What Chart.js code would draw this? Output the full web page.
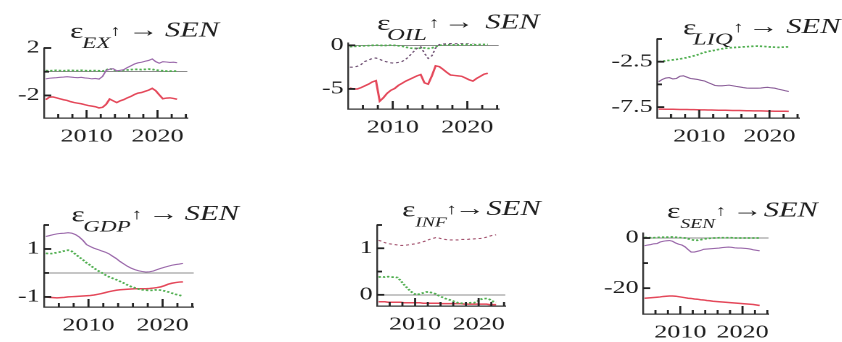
<!DOCTYPE html>
<html>
<head>
<meta charset="utf-8">
<script src="https://cdn.jsdelivr.net/npm/chart.js@4.4.1/dist/chart.umd.min.js"></script>
<style>
  html, body { margin: 0; padding: 0; background: #fff; }
  #page { position: relative; width: 842px; height: 342px; overflow: hidden; background: #fff; }
  .panel { position: absolute; transform-origin: 0 0; }
  .panel canvas { display: block; }
</style>
</head>
<body>
<div id="page"></div>
<script>
// Half-year sample points
const years = [2004.25, 2004.75, 2005.25, 2005.75, 2006.25, 2006.75, 2007.25, 2007.75, 2008.25, 2008.75,
  2009.25, 2009.75, 2010.25, 2010.75, 2011.25, 2011.75, 2012.25, 2012.75, 2013.25, 2013.75,
  2014.25, 2014.75, 2015.25, 2015.75, 2016.25, 2016.75, 2017.25, 2017.75, 2018.25, 2018.75,
  2019.25, 2019.75, 2020.25, 2020.75, 2021.25, 2021.75, 2022.25, 2022.75];

const yearTicks = [2010, 2020];
const yearLabels = ['2010', '2020'];
const minorYears = [2006, 2008, 2010, 2012, 2014, 2016, 2018, 2020, 2022, 2024];

// EX shock
const exGreen = [0.1, 0.08, 0.1, 0.12, 0.1, 0.08, 0.1, 0.12, 0.1, 0.1, 0.12, 0.1, 0.08, 0.1, 0.1, 0.08, 0.05, 0.15, 0.25, 0.18,
  0.05, 0.08, 0.12, 0.15, 0.18, 0.2, 0.2, 0.18, 0.2, 0.22, 0.2, 0.15, 0.1, 0.08, 0.05, 0.05, 0.05, 0.05];
const exPurple = [-0.6, -0.55, -0.52, -0.5, -0.47, -0.45, -0.42, -0.45, -0.48, -0.5, -0.47, -0.52, -0.55, -0.6, -0.57, -0.62, -0.4, 0.1, 0.22, 0.25,
  0.08, 0.12, 0.18, 0.35, 0.5, 0.65, 0.75, 0.8, 0.88, 0.95, 1.08, 0.85, 0.72, 0.85, 0.82, 0.78, 0.8, 0.76];
const exRed = [-2.35, -2.15, -2.12, -2.2, -2.28, -2.36, -2.42, -2.52, -2.6, -2.65, -2.7, -2.78, -2.85, -2.9, -2.95, -3.05, -3.0, -2.75, -2.3, -2.45,
  -2.6, -2.45, -2.35, -2.2, -2.08, -1.92, -1.8, -1.75, -1.65, -1.55, -1.4, -1.6, -1.95, -2.28, -2.22, -2.2, -2.25, -2.32];
const exTicks = [-2, 0, 2];
const exTickLabels = ['-2', '', '2'];

// OIL shock
const oilGreen = [-0.15, -0.12, -0.1, -0.08, -0.05, -0.03, 0, 0.02, 0, -0.02, 0, 0.02, 0, -0.05, -0.1, -0.2, -0.3, -0.35, -0.35, -0.32,
  -0.3, -0.35, -0.3, -0.15, 0, 0.05, 0.05, 0.08, 0.05, 0.05, 0.08, 0.1, 0.08, 0.05, 0.08, 0.1, 0.1, 0.1];
const oilPurple = [-2.5, -2.5, -2.4, -2.2, -1.85, -1.7, -1.5, -1.45, -1.6, -1.8, -1.9, -2.0, -2.05, -1.95, -1.85, -1.6, -1.2, -0.75, -0.35, -0.15,
  -0.9, -1.5, -1.2, -0.3, 0.1, 0.15, 0.18, 0.2, 0.18, 0.2, 0.25, 0.25, 0.28, 0.3, 0.32, 0.38, 0.45, 0.5];
const oilRed = [-4.9, -5.0, -5.0, -4.85, -4.65, -4.45, -4.2, -4.05, -6.4, -6.0, -5.5, -5.15, -4.95, -4.6, -4.35, -4.1, -3.9, -3.7, -3.5, -3.35,
  -4.3, -4.45, -3.5, -2.35, -2.45, -2.75, -3.1, -3.4, -3.45, -3.5, -3.55, -3.75, -3.95, -4.1, -3.8, -3.55, -3.3, -3.2];
const oilTicks = [-5, 0];
const oilTickLabels = ['-5', '0'];

// LIQ shock
const liqGreen = [-2.5, -2.45, -2.4, -2.35, -2.3, -2.25, -2.2, -2.12, -2.05, -1.95, -1.85, -1.75, -1.6, -1.48, -1.38, -1.3, -1.24, -1.15, -1.08, -1.02,
  -0.98, -0.94, -0.92, -0.9, -0.87, -0.85, -0.82, -0.8, -0.78, -0.8, -0.82, -0.86, -0.88, -0.9, -0.92, -0.9, -0.88, -0.86];
const liqPurple = [-4.7, -4.45, -4.3, -4.25, -4.4, -4.35, -4.1, -4.05, -4.2, -4.35, -4.4, -4.45, -4.55, -4.62, -4.8, -4.95, -5.12, -5.16, -5.16, -5.12,
  -5.08, -5.15, -5.22, -5.28, -5.35, -5.4, -5.42, -5.42, -5.42, -5.4, -5.35, -5.32, -5.38, -5.42, -5.52, -5.6, -5.7, -5.78];
const liqRed = [-7.72, -7.72, -7.73, -7.74, -7.74, -7.75, -7.76, -7.76, -7.77, -7.78, -7.78, -7.79, -7.8, -7.81, -7.82, -7.82, -7.83, -7.84, -7.85, -7.85,
  -7.86, -7.87, -7.88, -7.88, -7.89, -7.9, -7.9, -7.91, -7.92, -7.92, -7.93, -7.94, -7.94, -7.95, -7.95, -7.96, -7.96, -7.97];
const liqTicks = [-7.5, -5, -2.5, 0];
const liqTickLabels = ['-7.5', '', '-2.5', ''];

// GDP shock
const gdpGreen = [0.82, 0.8, 0.82, 0.85, 0.88, 0.92, 0.95, 0.9, 0.78, 0.66, 0.55, 0.42, 0.32, 0.2, 0.1, 0.02, -0.08, -0.16, -0.22, -0.28,
  -0.35, -0.42, -0.5, -0.57, -0.62, -0.67, -0.7, -0.72, -0.73, -0.72, -0.7, -0.72, -0.75, -0.79, -0.84, -0.89, -0.93, -0.96];
const gdpPurple = [1.52, 1.56, 1.6, 1.63, 1.65, 1.66, 1.68, 1.66, 1.6, 1.5, 1.36, 1.18, 1.1, 1.03, 0.98, 0.92, 0.87, 0.8, 0.7, 0.6,
  0.48, 0.38, 0.28, 0.2, 0.14, 0.09, 0.06, 0.04, 0.05, 0.08, 0.14, 0.19, 0.24, 0.28, 0.32, 0.35, 0.37, 0.4];
const gdpRed = [-1.0, -1.02, -1.03, -1.04, -1.03, -1.02, -1.0, -0.99, -0.98, -0.97, -0.96, -0.95, -0.94, -0.92, -0.89, -0.86, -0.82, -0.78, -0.75, -0.72,
  -0.7, -0.69, -0.68, -0.67, -0.66, -0.66, -0.66, -0.66, -0.65, -0.63, -0.61, -0.58, -0.53, -0.47, -0.43, -0.4, -0.38, -0.37];
const gdpTicks = [-1, 0, 1, 2];
const gdpTickLabels = ['-1', '', '1', ''];

// INF shock
const infGreen = [0.38, 0.39, 0.38, 0.39, 0.38, 0.38, 0.37, 0.3, 0.22, 0.15, 0.08, 0.03, 0.0, 0.02, 0.04, 0.06, 0.06, 0.04, 0.02, -0.02,
  -0.05, -0.08, -0.1, -0.12, -0.15, -0.17, -0.18, -0.19, -0.18, -0.17, -0.17, -0.15, -0.1, -0.08, -0.08, -0.1, -0.14, -0.16];
const infPurple = [1.17, 1.15, 1.12, 1.1, 1.09, 1.08, 1.07, 1.06, 1.06, 1.07, 1.08, 1.09, 1.1, 1.12, 1.14, 1.16, 1.19, 1.21, 1.23, 1.22,
  1.2, 1.19, 1.18, 1.18, 1.18, 1.18, 1.19, 1.19, 1.19, 1.2, 1.2, 1.21, 1.21, 1.22, 1.24, 1.26, 1.28, 1.29];
const infRed = [-0.15, -0.15, -0.15, -0.16, -0.16, -0.16, -0.16, -0.16, -0.17, -0.17, -0.17, -0.17, -0.17, -0.17, -0.18, -0.18, -0.18, -0.18, -0.18, -0.18,
  -0.19, -0.19, -0.19, -0.19, -0.19, -0.19, -0.19, -0.2, -0.2, -0.2, -0.2, -0.2, -0.2, -0.2, -0.2, -0.21, -0.21, -0.21];
const infTicks = [0, 0.5, 1, 1.5];
const infTickLabels = ['0', '', '1', ''];

// SEN shock
const senGreen = [0.2, 0.2, 0.1, 0.1, 0.2, 0.3, 0.3, 0.3, 0.4, 0.4, 0.3, 0.2, 0.1, 0, -0.3, -0.6, -0.9, -0.9, -0.7, -0.4,
  -0.2, -0.1, 0, 0, 0.1, 0.1, 0.1, 0.1, 0.1, 0, 0, 0, 0, 0, 0, 0, 0, 0];
const senPurple = [-3.1, -2.8, -2.6, -2.3, -2.2, -1.6, -1.3, -1.1, -1.0, -1.3, -2.0, -2.5, -2.8, -3.5, -4.6, -5.6, -5.6, -5.3, -5.0, -4.5,
  -4.4, -4.3, -4.2, -4.1, -4.0, -3.8, -3.7, -3.6, -3.7, -3.9, -4.0, -4.0, -4.1, -4.2, -4.4, -4.7, -4.9, -5.1];
const senRed = [-24.0, -23.9, -23.8, -23.7, -23.6, -23.5, -23.3, -23.2, -23.1, -23.1, -23.2, -23.4, -23.6, -23.8, -24.0, -24.1, -24.3, -24.4, -24.6, -24.7,
  -24.9, -25.0, -25.2, -25.3, -25.4, -25.5, -25.6, -25.7, -25.8, -25.9, -26.0, -26.1, -26.2, -26.3, -26.4, -26.5, -26.7, -26.9];
const senTicks = [-20, -10, 0];
const senTickLabels = ['-20', '', '0'];

// ---- layout & styling ----
const STRETCH = 1.45;          // horizontal stretch of the whole figure
const LEFT = 50, TOP = 45, BOTTOM = 32; // room for axis labels and heading
const SERIF = '"Liberation Serif", "Times New Roman", serif';

// heading: [x of ε from plot left, baseline from plot top], part offsets from ε (sub, ↑, →, SEN), subscript size
const panels = [
  { sub: 'EX',  green: exGreen,  purple: exPurple,  red: exRed,  ticks: exTicks,  labels: exTickLabels,  min: -3.9,  max: 2,    zero: true,
    box: [44, 187.3, 48.3, 118],      right: 50, head: [26, -11.6],  parts: [12, 40, 58, 95],     subSize: 16,
    purpleColor: '#9a68aa', purpleDash: [] },
  { sub: 'OIL', green: oilGreen, purple: oilPurple, red: oilRed, ticks: oilTicks, labels: oilTickLabels, min: -7.3,  max: 0.27, zero: true,
    box: [347.7, 498.3, 42.7, 108.3], right: 50, head: [29, -14.4],  parts: [10, 51.6, 66.6, 108.3], subSize: 17,
    purpleColor: '#6e4f72', purpleDash: [2, 2] },
  { sub: 'LIQ', green: liqGreen, purple: liqPurple, red: liqRed, ticks: liqTicks, labels: liqTickLabels, min: -8.7,  max: 0,    zero: false,
    box: [657.3, 799.3, 38.9, 118.3], right: 50, head: [26, -6],     parts: [10, 50, 65, 103.3],  subSize: 17,
    purpleColor: '#8a5d98', purpleDash: [] },
  { sub: 'GDP', green: gdpGreen, purple: gdpPurple, red: gdpRed, ticks: gdpTicks, labels: gdpTickLabels, min: -1.42, max: 2,    zero: true,
    box: [44.3, 194, 225, 306.7],     right: 49, head: [27.4, -5],   parts: [11.7, 60, 76.7, 113.3], subSize: 16,
    purpleColor: '#9a68aa', purpleDash: [] },
  { sub: 'INF', green: infGreen, purple: infPurple, red: infRed, ticks: infTicks, labels: infTickLabels, min: -0.24, max: 1.5,  zero: true,
    box: [376.7, 505, 225, 306],      right: 50, head: [25, -10],    parts: [13.3, 44, 52.5, 84.5], subSize: 13.5,
    purpleColor: '#a3526e', purpleDash: [2, 2] },
  { sub: 'SEN', green: senGreen, purple: senPurple, red: senRed, ticks: senTicks, labels: senTickLabels, min: -30.3, max: 2,    zero: true,
    box: [642.7, 768.3, 233.3, 314],  right: 50, head: [24, -16.6],  parts: [13.3, 48.3, 65, 96.7], subSize: 13.5,
    purpleColor: '#9a68aa', purpleDash: [] }
];

// Axis tick marks pointing into the plot
const inwardTicks = {
  id: 'inwardTicks',
  afterDraw(chart) {
    const { ctx, chartArea: a, scales: { x, y } } = chart;
    const cfg = chart.config._config.inward;
    ctx.save();
    ctx.fillStyle = '#222';
    cfg.ticks.forEach((v, i) => {
      const py = y.getPixelForValue(v);
      const len = cfg.labels[i] ? 5 : 3.5;
      ctx.fillRect(a.left, py - 0.9, len, 1.8);
    });
    minorYears.forEach(yr => {
      const px = x.getPixelForValue(yr);
      const len = yearTicks.includes(yr) ? 8 : 4;
      ctx.fillRect(px - 0.7, a.bottom - len, 1.4, len);
    });
    ctx.restore();
  }
};

// The "ε_X↑ → SEN" heading
const heading = {
  id: 'heading',
  afterDraw(chart) {
    const { ctx, chartArea: a } = chart;
    const h = chart.config._config.inward;
    const x0 = a.left + h.head[0] / STRETCH;
    const ty = a.top + h.head[1];
    const off = [0].concat(h.parts);
    const pieces = [
      { t: 'ε',   f: '22px ' + SERIF,                       dy: 1.5 },
      { t: h.sub, f: 'italic ' + h.subSize + 'px ' + SERIF, dy: 11.5 },
      { t: '↑',   f: '15px ' + SERIF,                       dy: -1 },
      { t: '→',   f: '21px ' + SERIF,                       dy: 0 },
      { t: 'SEN', f: 'italic 21px ' + SERIF,                dy: 0 }
    ];
    ctx.save();
    ctx.fillStyle = '#1e1e1e';
    ctx.textBaseline = 'alphabetic';
    ctx.textAlign = 'left';
    pieces.forEach((p, i) => {
      ctx.font = p.f;
      ctx.fillText(p.t, x0 + off[i] / STRETCH, ty + p.dy);
    });
    ctx.restore();
  }
};

const page = document.getElementById('page');

panels.forEach(p => {
  const [L, R, T, B] = p.box;
  const plotW = (R - L) / STRETCH;
  const leftW = LEFT / STRETCH;
  const width = Math.round((LEFT + (R - L) + p.right) / STRETCH);
  const height = Math.round(TOP + (B - T) + BOTTOM);

  const div = document.createElement('div');
  div.className = 'panel';
  div.style.left = (L - LEFT) + 'px';
  div.style.top = (T - TOP) + 'px';
  div.style.width = width + 'px';
  div.style.height = height + 'px';
  div.style.transform = 'scaleX(' + STRETCH + ')';
  const canvas = document.createElement('canvas');
  canvas.width = width;
  canvas.height = height;
  div.appendChild(canvas);
  page.appendChild(div);

  const pts = arr => years.map((t, i) => ({ x: t, y: arr[i] }));

  new Chart(canvas, {
    type: 'line',
    inward: { ticks: p.ticks, labels: p.labels, sub: p.sub, head: p.head, parts: p.parts, subSize: p.subSize },
    data: {
      datasets: [
        { data: pts(p.purple), borderColor: p.purpleColor, borderWidth: 1.1, borderDash: p.purpleDash, pointRadius: 0, tension: 0 },
        { data: pts(p.green),  borderColor: '#4fae4f', borderWidth: 1.7, borderDash: [1.6, 1.4], pointRadius: 0, tension: 0 },
        { data: pts(p.red),    borderColor: '#e4485a', borderWidth: 1.5, pointRadius: 0, tension: 0 }
      ]
    },
    options: {
      responsive: false,
      animation: false,
      events: [],
      devicePixelRatio: 2,
      layout: { padding: { left: 0, top: TOP, right: width - leftW - plotW, bottom: 0 } },
      plugins: {
        legend: { display: false },
        tooltip: { enabled: false }
      },
      scales: {
        x: {
          type: 'linear', min: 2004, max: 2024.2,
          afterFit: s => { s.height = BOTTOM; },
          afterBuildTicks: s => { s.ticks = yearTicks.map(v => ({ value: v })); },
          ticks: {
            callback: v => { const i = yearTicks.indexOf(v); return i >= 0 ? yearLabels[i] : ''; },
            font: { family: SERIF, size: 18 }, color: '#1e1e1e', padding: 8,
            maxRotation: 0, minRotation: 0, autoSkip: false
          },
          grid: { display: false, drawTicks: false },
          border: { display: true, color: '#333', width: 1.2 }
        },
        y: {
          type: 'linear', min: p.min, max: p.max,
          afterFit: s => { s.width = leftW; },
          afterBuildTicks: s => { s.ticks = p.ticks.map(v => ({ value: v })); },
          ticks: {
            callback: v => { const i = p.ticks.indexOf(v); return i >= 0 ? p.labels[i] : ''; },
            font: { family: SERIF, size: 18 }, color: '#1e1e1e', padding: 3, autoSkip: false
          },
          grid: {
            drawTicks: false,
            lineWidth: 1,
            color: c => (p.zero && c.tick && c.tick.value === 0) ? '#8c8c8c' : 'rgba(0,0,0,0)'
          },
          border: { display: true, color: '#333', width: 1.2 }
        }
      }
    },
    plugins: [inwardTicks, heading]
  });
});
</script>
</body>
</html>
